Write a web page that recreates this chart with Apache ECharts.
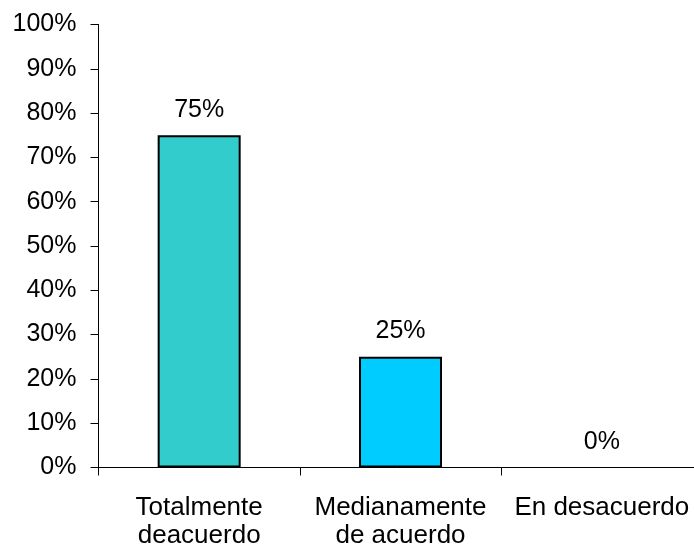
<!DOCTYPE html>
<html>
<head>
<meta charset="utf-8">
<script src="https://cdn.jsdelivr.net/npm/echarts@6/dist/echarts.min.js"></script>
<style>html,body{margin:0;padding:0;background:#fff;}#c{width:694px;height:550px;}</style>
</head>
<body>
<div id="c"></div>
<script>
const categories = ['Totalmente\ndeacuerdo', 'Medianamente\nde acuerdo', 'En desacuerdo'];
const values = [75, 25, 0];
const barColors = ['#33CCCC', '#00CCFF', '#9999FF'];
const yTicks = { min: 0, max: 100, interval: 10 };

const chart = echarts.init(document.getElementById('c'), null, { renderer: 'canvas' });
const font = 'Liberation Sans, Arial, sans-serif';
chart.setOption({
  animation: false,
  grid: { left: 98.5, width: 604, top: 24.5, bottom: 82.5, containLabel: false, outerBoundsMode: 'none' },
  xAxis: {
    type: 'category',
    data: categories,
    axisLine: { lineStyle: { color: '#000', width: 1 } },
    axisTick: { show: true, length: 8, lineStyle: { color: '#000' } },
    axisLabel: { color: '#000', fontSize: 26, fontFamily: font, margin: 26, lineHeight: 28, interval: 0, hideOverlap: false },
    splitLine: { show: false }
  },
  yAxis: {
    type: 'value',
    min: yTicks.min, max: yTicks.max, interval: yTicks.interval,
    axisLine: { show: true, lineStyle: { color: '#000', width: 1 } },
    axisTick: { show: true, length: 8, lineStyle: { color: '#000' } },
    axisLabel: { color: '#000', fontSize: 25, fontFamily: font, margin: 22, formatter: '{value}%' },
    splitLine: { show: false }
  },
  series: [{
    type: 'bar',
    data: values.map((v, i) => ({ value: v, itemStyle: { color: barColors[i], borderWidth: v === 0 ? 0 : 2 } })),
    barWidth: 83,
    itemStyle: { borderColor: '#000', borderWidth: 2 },
    label: { show: true, position: 'top', distance: 13, color: '#000', fontSize: 25, fontFamily: font, formatter: '{c}%' }
  }]
});
</script>
</body>
</html>
